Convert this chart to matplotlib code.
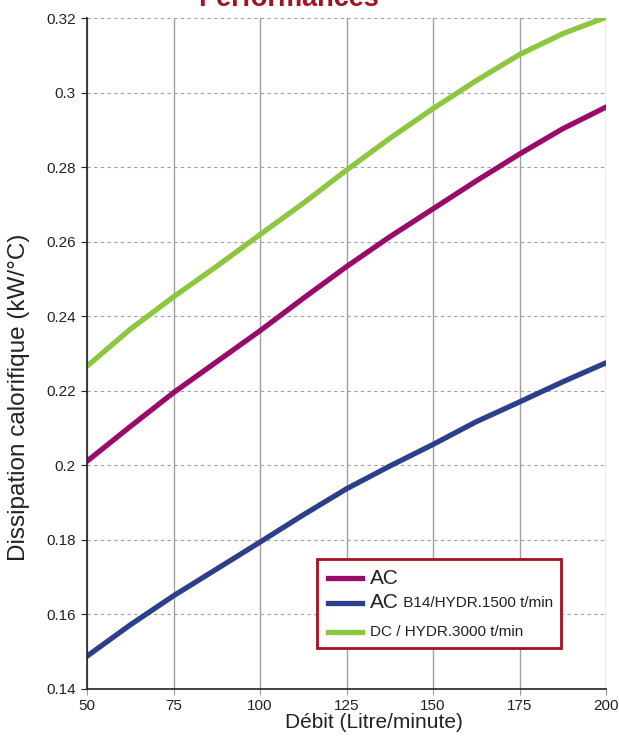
import matplotlib
matplotlib.use("Agg")
import matplotlib.pyplot as plt
from matplotlib.lines import Line2D
from matplotlib.patches import Rectangle

debit = [50, 62.5, 75, 87.5, 100, 112.5, 125, 137.5, 150, 162.5, 175, 187.5, 200]
ac = [0.2011, 0.2104, 0.2195, 0.2278, 0.2361, 0.2448, 0.2533, 0.2613, 0.2688,
      0.2763, 0.2835, 0.2903, 0.2961]
ac_b14 = [0.1488, 0.1572, 0.1650, 0.1722, 0.1794, 0.1867, 0.1937, 0.1998, 0.2056,
          0.2117, 0.2170, 0.2224, 0.2275]
dc = [0.2266, 0.2365, 0.2452, 0.2534, 0.2619, 0.2703, 0.2792, 0.2877, 0.2957,
      0.3032, 0.3102, 0.3158, 0.3202]
yticks = [0.14, 0.16, 0.18, 0.20, 0.22, 0.24, 0.26, 0.28, 0.30, 0.32]
ytick_labels = ["0.14", "0.16", "0.18", "0.2", "0.22", "0.24", "0.26", "0.28", "0.3", "0.32"]
xticks = [50, 75, 100, 125, 150, 175, 200]

c_ac = "#9a0a6b"
c_b14 = "#2c3f8b"
c_dc = "#8dc63f"
c_red = "#a3121f"

FONT = ["Liberation Sans Narrow", "Liberation Sans", "DejaVu Sans"]
plt.rcParams['font.family'] = FONT

W, H = 619, 742
fig = plt.figure(figsize=(W / 100, H / 100), dpi=100)
L, R, T, B = 87, 606, 18, 689
ax = fig.add_axes([L / W, 1 - B / H, (R - L) / W, (B - T) / H])

for series, col in [(dc, c_dc), (ac, c_ac), (ac_b14, c_b14)]:
    ax.plot(debit, series, color=col, lw=3.8, solid_capstyle='round',
            solid_joinstyle='round', zorder=3)

ax.set_xlim(50, 200)
ax.set_ylim(0.14, 0.32)
ax.set_xticks(xticks)
ax.set_xticklabels([str(x) for x in xticks])
ax.set_yticks(yticks)
ax.set_yticklabels(ytick_labels)
ax.tick_params(axis='both', labelsize=11, colors='#222222')
ax.tick_params(axis='x', length=4, color='#999999', pad=3)
ax.tick_params(axis='y', length=4, color='#222222', pad=4)

ax.xaxis.grid(True, color='#a0a0a0', lw=1.0, ls='-')
ax.yaxis.grid(True, color='#a0a0a0', lw=0.8, ls=(0, (3, 3)))
ax.set_axisbelow(True)
for s in ['top', 'right']:
    ax.spines[s].set_visible(False)
for s in ['left', 'bottom']:
    ax.spines[s].set_color('#222222')
    ax.spines[s].set_linewidth(1.2)
    ax.spines[s].set_zorder(4)

def fx(px):
    return (px - L) / (R - L)

def fy(py):
    return (B - py) / (B - T)

ax.text(fx(374), fy(723), "Débit (Litre/minute)", transform=ax.transAxes,
        fontsize=15, color='#222222', ha='center', va='center')
ax.text(fx(19), fy(397), "Dissipation calorifique (kW/°C)", transform=ax.transAxes,
        fontsize=17.5, color='#222222', ha='center', va='center', rotation=90)

fig.text(288 / W, 1 - 6 / H, "Performances", fontsize=19.5, fontweight='bold',
         color=c_red, ha='center', va='baseline')

# legend
ax.add_patch(Rectangle((fx(317), fy(648)), fx(561) - fx(317), fy(559) - fy(648),
                       transform=ax.transAxes, facecolor='white', edgecolor=c_red,
                       lw=2, zorder=5))
rows = [(578, c_ac), (603, c_b14), (632, c_dc)]
for py, c in rows:
    ax.add_line(Line2D([fx(328), fx(362)], [fy(py), fy(py)], transform=ax.transAxes,
                       color=c, lw=3.8, zorder=6))
ax.text(fx(370), fy(578), "AC", transform=ax.transAxes, fontsize=15, va='center',
        ha='left', color='#222222', zorder=7)
t2 = ax.text(fx(370), fy(603), "AC", transform=ax.transAxes, fontsize=15, va='center',
             ha='left', color='#222222', zorder=7)
ax.annotate(" B14/HYDR.1500 t/min", xy=(1, 0.12), xycoords=t2, fontsize=11,
            va='bottom', ha='left', color='#222222', zorder=7)
ax.text(fx(370), fy(632), "DC / HYDR.3000 t/min", transform=ax.transAxes, fontsize=11,
        va='center', ha='left', color='#222222', zorder=7)

fig.savefig("out.png", dpi=100)
